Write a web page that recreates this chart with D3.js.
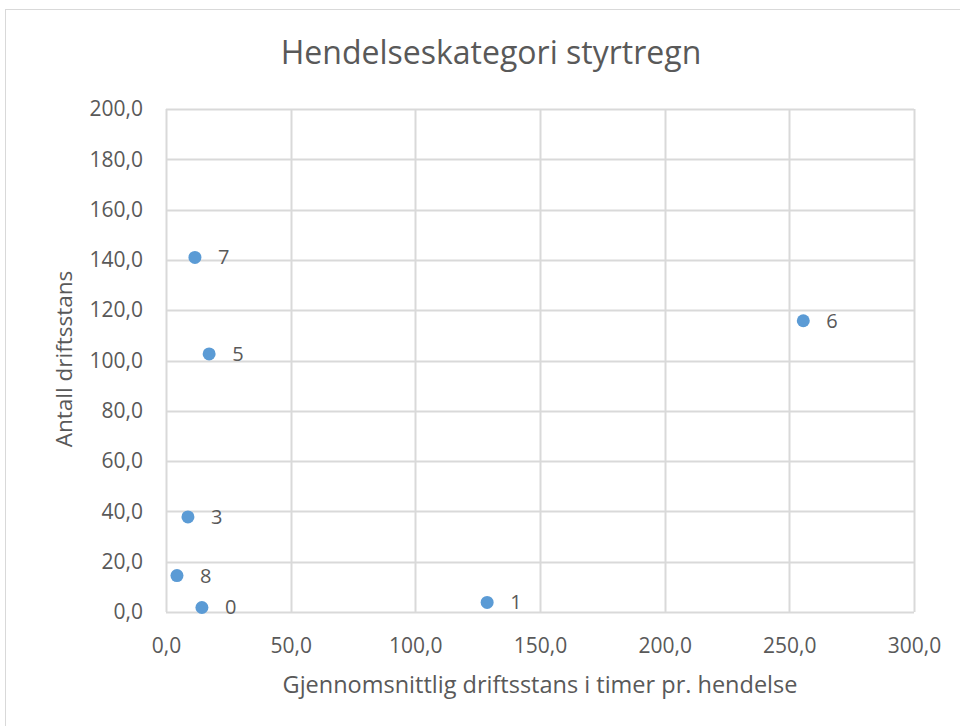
<!DOCTYPE html>
<html>
<head>
<meta charset="utf-8">
<script src="https://cdn.jsdelivr.net/npm/d3@7"></script>
<style>
  body { margin: 0; background: #fff; }
  text { font-family: "Open Sans", Lato, sans-serif; fill: #595959; }
</style>
</head>
<body>
<div id="scatter"></div>
<script>
// Scatter chart: Hendelseskategori styrtregn

var svgWidth = 960;
var svgHeight = 726;

// plot area inside the chart box
var margin = { top: 109, right: 46, bottom: 114, left: 166 };
var width = svgWidth - margin.left - margin.right;
var height = svgHeight - margin.top - margin.bottom;

// data
var pointLabels = ["7", "5", "3", "8", "0", "1", "6"];
var avgHours = [11.6, 17.3, 8.8, 4.4, 14.4, 128.8, 255.6];
var counts = [141, 102.6, 37.8, 14.5, 1.8, 3.8, 115.8];
var xTicks = [0, 50, 100, 150, 200, 250, 300];
var yTicks = [0, 20, 40, 60, 80, 100, 120, 140, 160, 180, 200];

var points = pointLabels.map(function(l, i) {
    return { label: l, x: avgHours[i], y: counts[i] };
});

var fmt = function(v) { return d3.format(".1f")(v).replace(".", ","); };

var svg = d3.select("#scatter")
    .append("svg")
    .attr("width", svgWidth)
    .attr("height", svgHeight);

// chart border
svg.append("rect")
    .attr("x", 5.5)
    .attr("y", 9.5)
    .attr("width", svgWidth)
    .attr("height", svgHeight)
    .attr("fill", "none")
    .attr("stroke", "#d9d9d9");

var chartGroup = svg.append("g")
    .attr("transform", `translate(${margin.left}, ${margin.top})`);

var xScale = d3.scaleLinear().domain([0, 300]).range([0, width]);
var yScale = d3.scaleLinear().domain([0, 200]).range([height, 0]);

// gridlines
chartGroup.append("g")
    .selectAll("line")
    .data(xTicks)
    .enter()
    .append("line")
    .attr("x1", d => Math.round(xScale(d)) + 0.5)
    .attr("x2", d => Math.round(xScale(d)) + 0.5)
    .attr("y1", 0)
    .attr("y2", height)
    .attr("stroke", "#d9d9d9")
    .attr("stroke-width", 2);

chartGroup.append("g")
    .selectAll("line")
    .data(yTicks)
    .enter()
    .append("line")
    .attr("x1", 0)
    .attr("x2", width)
    .attr("y1", d => Math.round(yScale(d)) + 0.5)
    .attr("y2", d => Math.round(yScale(d)) + 0.5)
    .attr("stroke", "#d9d9d9")
    .attr("stroke-width", 2);

// axes (text only, lines hidden)
var bottomAxis = d3.axisBottom(xScale).tickValues(xTicks).tickFormat(fmt).tickSize(0).tickPadding(26);
var leftAxis = d3.axisLeft(yScale).tickValues(yTicks).tickFormat(fmt).tickSize(0).tickPadding(23);

var xAxis = chartGroup.append("g")
    .attr("transform", `translate(0, ${height})`)
    .call(bottomAxis);
var yAxis = chartGroup.append("g")
    .call(leftAxis);

[xAxis, yAxis].forEach(function(ax) {
    ax.select(".domain").remove();
    ax.selectAll("text")
        .attr("fill", "#595959")
        .style("font-size", "21px")
        .style("font-family", "'Open Sans', Lato, sans-serif");
});

// points
chartGroup.selectAll("circle")
    .data(points)
    .enter()
    .append("circle")
    .attr("cx", d => xScale(d.x))
    .attr("cy", d => yScale(d.y))
    .attr("r", 6.5)
    .attr("fill", "#5b9bd5");

// data labels
chartGroup.selectAll(".pt-label")
    .data(points)
    .enter()
    .append("text")
    .attr("class", "pt-label")
    .attr("x", d => xScale(d.x) + 23)
    .attr("y", d => yScale(d.y) + 7)
    .style("font-size", "20px")
    .text(d => d.label);

// title
svg.append("text")
    .attr("x", 491)
    .attr("y", 64)
    .attr("text-anchor", "middle")
    .style("font-size", "32px")
    .text("Hendelseskategori styrtregn");

// axis titles
svg.append("text")
    .attr("x", 540)
    .attr("y", 693)
    .attr("text-anchor", "middle")
    .style("font-size", "23.5px")
    .text("Gjennomsnittlig driftsstans i timer pr. hendelse");

svg.append("text")
    .attr("transform", "translate(72, 359) rotate(-90)")
    .attr("text-anchor", "middle")
    .style("font-size", "22.5px")
    .text("Antall driftsstans");
</script>
</body>
</html>
